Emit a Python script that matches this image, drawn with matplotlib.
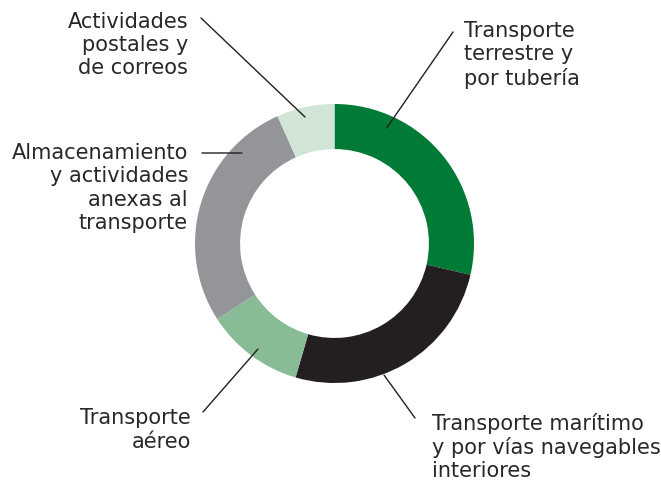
import matplotlib
matplotlib.use('Agg')
import matplotlib.pyplot as plt

# datos (porcentaje aprox.)
categorias = ['Transporte\nterrestre y\npor tubería',
              'Transporte marítimo\ny por vías navegables\ninteriores',
              'Transporte\naéreo',
              'Almacenamiento\ny actividades\nanexas al\ntransporte',
              'Actividades\npostales y\nde correos']
valores = [28.6, 25.9, 11.4, 27.4, 6.7]
colores = ['#007A37', '#231F20', '#88BC96', '#939598', '#D0E5D6']

W, H = 661, 480
fig = plt.figure(figsize=(W / 100, H / 100), dpi=100)
ax = fig.add_axes([0, 0, 1, 1])

cx, cy, r = 334.5, H - 243.5, 139.5
ax.pie(valores, colors=colores, startangle=90, counterclock=False,
       center=(cx, cy), radius=r, wedgeprops=dict(width=r * 0.323, linewidth=0))

ax.set_xlim(0, W)
ax.set_ylim(0, H)
ax.set_aspect('equal')
ax.axis('off')

txt = dict(fontsize=15, color='#2A2728', linespacing=1.2, va='center')
linea = dict(arrowstyle='-', color='#231F20', lw=1, shrinkA=0, shrinkB=0)

# (punto en el anillo, inicio de la linea, posicion del texto, alineacion)
etiquetas = [
    ((386.7, 128), (453, 32), (464, 55), 'left'),
    ((384, 375), (415, 418), (432, 447), 'left'),
    ((258, 349), (203, 412), (191, 430), 'right'),
    ((242, 153), (202, 153), (188, 188), 'right'),
    ((305, 117), (201, 18), (188, 45), 'right'),
]
for cat, (p, q, t, ha) in zip(categorias, etiquetas):
    ax.annotate('', xy=(p[0], H - p[1]), xytext=(q[0], H - q[1]), arrowprops=linea)
    ax.text(t[0], H - t[1], cat, ha=ha, multialignment=ha, **txt)

fig.savefig('out.png', dpi=100)
